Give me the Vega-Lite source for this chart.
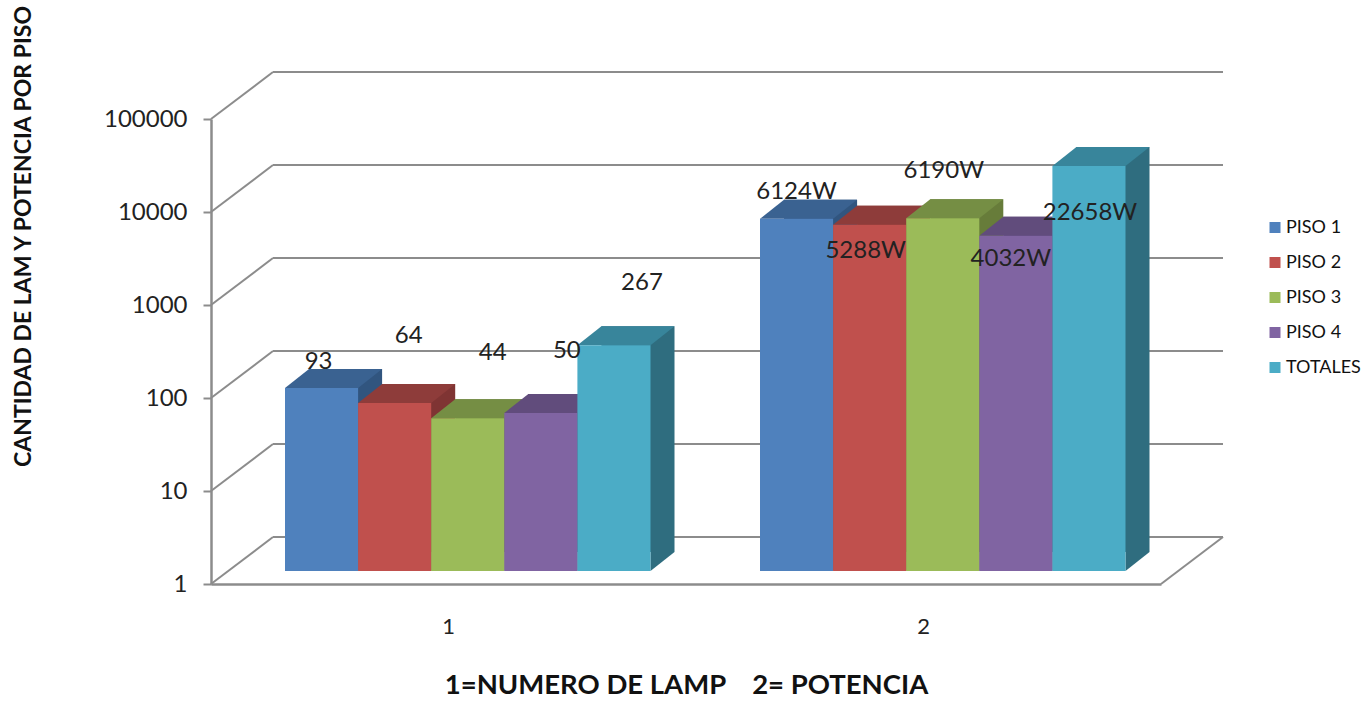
{"$schema":"https://vega.github.io/schema/vega-lite/v6.json","width":950,"height":465,"autosize":{"type":"none"},"padding":{"left":211,"top":119,"right":209,"bottom":118},"background":"white","config":{"font":"Lato","view":{"stroke":null}},
"datasets":{"barras":[
{"grupo":"1","serie":"PISO 1","valor":93,"etiqueta":"93"},
{"grupo":"1","serie":"PISO 2","valor":64,"etiqueta":"64"},
{"grupo":"1","serie":"PISO 3","valor":44,"etiqueta":"44"},
{"grupo":"1","serie":"PISO 4","valor":50,"etiqueta":"50"},
{"grupo":"1","serie":"TOTALES","valor":267,"etiqueta":"267"},
{"grupo":"2","serie":"PISO 1","valor":6124,"etiqueta":"6124W"},
{"grupo":"2","serie":"PISO 2","valor":5288,"etiqueta":"5288W"},
{"grupo":"2","serie":"PISO 3","valor":6190,"etiqueta":"6190W"},
{"grupo":"2","serie":"PISO 4","valor":4032,"etiqueta":"4032W"},
{"grupo":"2","serie":"TOTALES","valor":22658,"etiqueta":"22658W"}],
"marcas":[{"marca":1},{"marca":10},{"marca":100},{"marca":1000},{"marca":10000},{"marca":100000}]},
"data":{"name":"barras"},
"encoding":{
"x":{"field":"grupo","type":"nominal","scale":{"type":"band","domain":["1","2"],"paddingInner":0,"paddingOuter":0},"axis":{"title":"1=NUMERO DE LAMP \u00a0\u00a0 2= POTENCIA","titleFontSize":27.5,"titleFontWeight":"bold","titleColor":"#111111","titlePadding":34,"labelFontSize":22,"labelColor":"#222222","labelAngle":0,"labelPadding":32,"ticks":false,"domainColor":"#8C8C8C","domainWidth":2.5,"grid":false}},
"xOffset":{"field":"serie","type":"nominal","sort":null,"scale":{"type":"band","domain":["PISO 1","PISO 2","PISO 3","PISO 4","TOTALES"],"range":[74,439.5],"paddingInner":0,"paddingOuter":0}},
"y":{"field":"valor","type":"quantitative","scale":{"type":"log","domain":[1,100000],"nice":false},"axis":null}},
"resolve":{"scale":{"xOffset":"independent","color":"independent"},"axis":{"y":"independent"}},
"layer":[
{"data":{"name":"marcas"},"mark":{"type":"rule","color":"#8C8C8C","strokeWidth":2,"xOffset":62,"yOffset":-47,"x2Offset":62,"y2Offset":-47},"encoding":{"xOffset":null,"x":{"value":0},"x2":{"value":950},"y":{"field":"marca","type":"quantitative","axis":null}}},
{"data":{"name":"marcas"},"mark":{"type":"rule","color":"#8C8C8C","strokeWidth":2,"x2Offset":62,"y2Offset":-47},"encoding":{"xOffset":null,"x":{"value":0},"x2":{"value":0},"y":{"field":"marca","type":"quantitative","axis":{"title":"CANTIDAD DE LAM Y POTENCIA POR PISO","titleFontSize":23,"titleFontWeight":"bold","titleColor":"#111111","titleX":-176,"titleY":117,"labelFontSize":24,"labelColor":"#222222","labelPadding":16,"values":[1,10,100,1000,10000,100000],"format":"d","tickColor":"#8C8C8C","tickSize":8,"tickWidth":2,"domainColor":"#8C8C8C","domainWidth":2.5,"grid":false}},"y2":{"field":"marca"}}},
{"data":{"name":"marcas"},"transform":[{"filter":"datum.marca === 1"}],"mark":{"type":"rule","color":"#8C8C8C","strokeWidth":2,"x2Offset":62,"y2Offset":-47},"encoding":{"xOffset":null,"x":{"value":950},"x2":{"value":950},"y":{"field":"marca","type":"quantitative","axis":null},"y2":{"field":"marca"}}},
{"mark":{"type":"bar","yOffset":-32,"y2Offset":-32,"stroke":null},"encoding":{"xOffset":{"field":"serie","type":"nominal","sort":null,"scale":{"type":"band","domain":["PISO 1","PISO 2","PISO 3","PISO 4","TOTALES"],"range":[98,463.5],"paddingInner":0,"paddingOuter":0}},"y2":{"datum":1},"color":{"field":"serie","type":"nominal","sort":null,"legend":null,"scale":{"domain":["PISO 1","PISO 2","PISO 3","PISO 4","TOTALES"],"range":["#31557F","#7F3433","#677C3A","#54426C","#2F6D7F"]}}}},
{"mark":{"type":"point","filled":true,"opacity":1,"size":5344,"strokeWidth":0,"yOffset":-13,"shape":"M1,0L1.657,-0.52L1,-0.52Z"},"encoding":{"y":{"datum":1,"type":"quantitative","axis":null},"color":{"field":"serie","type":"nominal","sort":null,"legend":null,"scale":{"domain":["PISO 1","PISO 2","PISO 3","PISO 4","TOTALES"],"range":["#31557F","#7F3433","#677C3A","#54426C","#2F6D7F"]}}}},
{"mark":{"type":"point","filled":true,"opacity":1,"size":5344,"strokeWidth":0,"yOffset":-13,"shape":"M-1,0L-0.343,-0.52L1.657,-0.52L1,0Z"},"encoding":{"color":{"field":"serie","type":"nominal","sort":null,"legend":null,"scale":{"domain":["PISO 1","PISO 2","PISO 3","PISO 4","TOTALES"],"range":["#3A6291","#8E3C3A","#758E44","#614C7C","#38859B"]}}}},
{"mark":{"type":"bar","yOffset":-13,"y2Offset":-13},"encoding":{"y2":{"datum":1},"color":{"field":"serie","type":"nominal","sort":null,"title":null,"scale":{"domain":["PISO 1","PISO 2","PISO 3","PISO 4","TOTALES"],"range":["#4F81BD","#C0504D","#9BBB59","#8064A2","#4BACC6"]},"legend":{"orient":"none","legendX":1055,"legendY":99.5,"symbolType":"square","symbolSize":121,"symbolStrokeWidth":0,"labelFontSize":18,"labelColor":"#111111","labelOffset":2,"rowPadding":17,"labelLimit":200}}}},
{"transform":[{"filter":"datum.etiqueta === '93'"}],"mark":{"type":"text","fontSize":24,"color":"#222222","dx":-3,"dy":-39,"baseline":"middle"},"encoding":{"text":{"field":"etiqueta"}}},
{"transform":[{"filter":"datum.etiqueta === '64'"}],"mark":{"type":"text","fontSize":24,"color":"#222222","dx":14,"dy":-80,"baseline":"middle"},"encoding":{"text":{"field":"etiqueta"}}},
{"transform":[{"filter":"datum.etiqueta === '44'"}],"mark":{"type":"text","fontSize":24,"color":"#222222","dx":25,"dy":-78,"baseline":"middle"},"encoding":{"text":{"field":"etiqueta"}}},
{"transform":[{"filter":"datum.etiqueta === '50'"}],"mark":{"type":"text","fontSize":24,"color":"#222222","dx":26,"dy":-75,"baseline":"middle"},"encoding":{"text":{"field":"etiqueta"}}},
{"transform":[{"filter":"datum.etiqueta === '267'"}],"mark":{"type":"text","fontSize":24,"color":"#222222","dx":28,"dy":-75,"baseline":"middle"},"encoding":{"text":{"field":"etiqueta"}}},
{"transform":[{"filter":"datum.etiqueta === '6124W'"}],"mark":{"type":"text","fontSize":24,"color":"#222222","dx":0,"dy":-40,"baseline":"middle"},"encoding":{"text":{"field":"etiqueta"}}},
{"transform":[{"filter":"datum.etiqueta === '5288W'"}],"mark":{"type":"text","fontSize":24,"color":"#222222","dx":-4,"dy":13,"baseline":"middle"},"encoding":{"text":{"field":"etiqueta"}}},
{"transform":[{"filter":"datum.etiqueta === '6190W'"}],"mark":{"type":"text","fontSize":24,"color":"#222222","dx":1,"dy":-60,"baseline":"middle"},"encoding":{"text":{"field":"etiqueta"}}},
{"transform":[{"filter":"datum.etiqueta === '4032W'"}],"mark":{"type":"text","fontSize":24,"color":"#222222","dx":-5,"dy":10,"baseline":"middle"},"encoding":{"text":{"field":"etiqueta"}}},
{"transform":[{"filter":"datum.etiqueta === '22658W'"}],"mark":{"type":"text","fontSize":24,"color":"#222222","dx":1,"dy":34,"baseline":"middle"},"encoding":{"text":{"field":"etiqueta"}}}
]}
